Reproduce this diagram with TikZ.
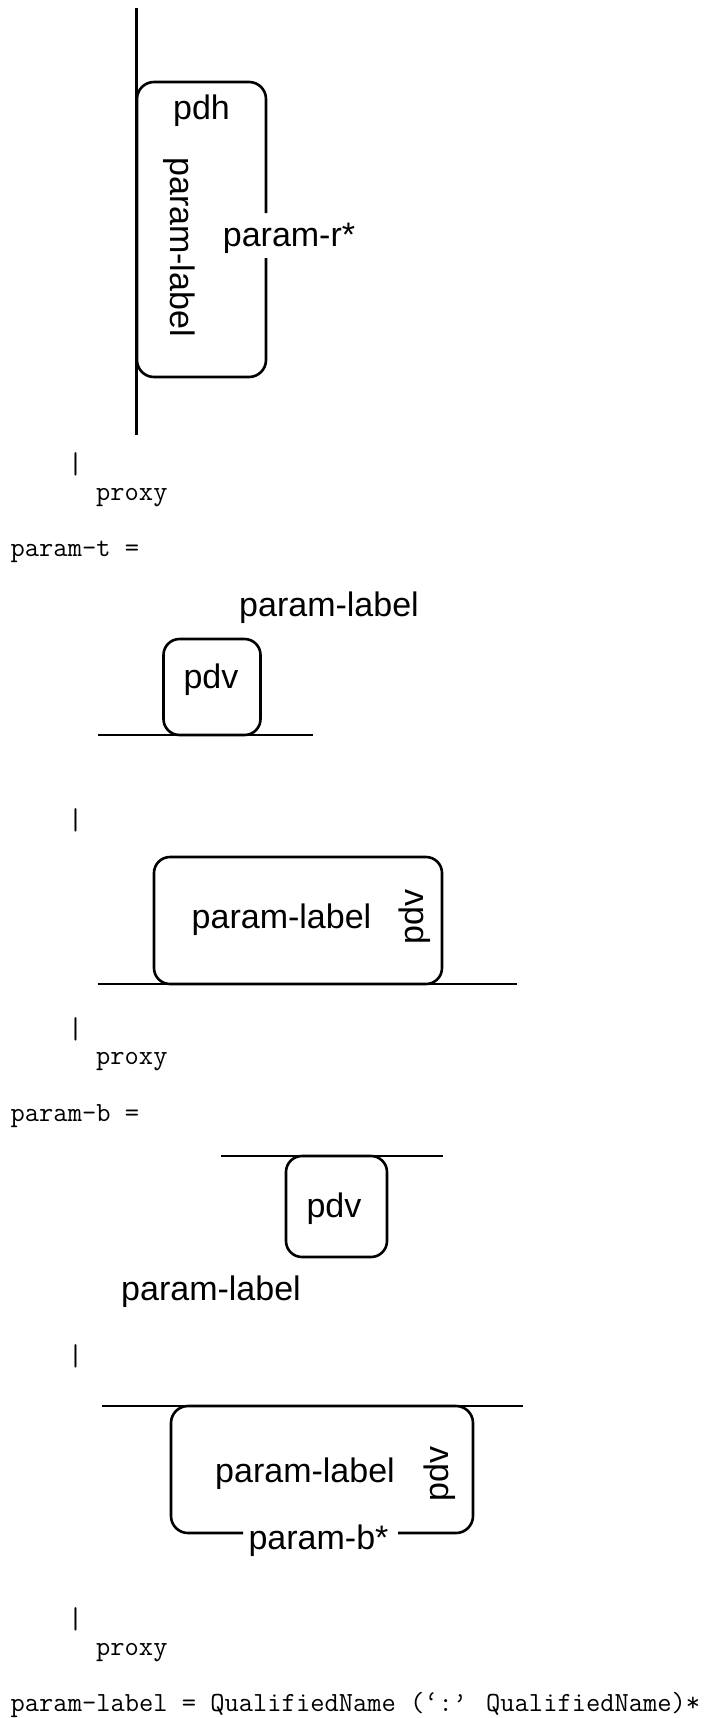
\documentclass[tikz,border=0pt]{standalone}
\usepackage{fontspec}
\setmainfont{Liberation Sans}
\begin{document}
\begin{tikzpicture}[x=1pt,y=-1pt,
  ln/.style={line width=2.6pt},
  sans/.style={inner sep=0pt,font=\fontsize{34}{40}\selectfont},
  mono/.style={inner sep=0pt,anchor=base west,font=\ttfamily\fontsize{27.7}{30}\selectfont},
  bar/.style={inner sep=0pt,anchor=center,font=\ttfamily\fontsize{30}{32}\selectfont},
  box/.style={draw,line width=2.6pt,rounded corners=16pt,inner sep=0pt}]
\fill[white] (0,0) rectangle (704,1718);
\useasboundingbox (0,0) rectangle (704,1718);

% ---- section 1 ----
\coordinate (v1t) at (136.5,8.5);
\coordinate (v1b) at (136.5,435);
\draw[ln] (v1t) -- (v1b);
\node[inner sep=0pt,minimum width=129pt,minimum height=295pt] (b1) at (201.5,229.5) {};
\draw[ln,rounded corners=17pt] (266,213) -- (266,82) -- (137,82) -- (137,377) -- (266,377) -- (266,258);
\node[sans,anchor=base] (pdh) at (201.5,120) {pdh};
\node[sans,anchor=base,rotate=-90] (pl1) at (170,247) {param-label};
\node[sans,anchor=base] (pr) at (289,246.5) {param-r*};

% ---- section 2 ----
\node[bar] (bar1) at (75.5,464.5) {|};
\node[mono] (px1) at (96,500) {proxy};
\node[mono] (pt) at (10.5,556) {param-t =};
\node[sans,anchor=base] (pl2) at (329,616) {param-label};
\node[box,minimum width=97pt,minimum height=96pt] (t1box) at (212,687) {};
\node[sans,anchor=base] (pdv1) at (211,688) {pdv};
\coordinate (l2a) at (97.7,735);
\coordinate (l2b) at (313,735);
\draw[ln] (l2a) -- (l2b);

% ---- section 3 ----
\node[bar] (bar2) at (75.5,820) {|};
\node[box,minimum width=288pt,minimum height=127pt] (t2box) at (298,920.5) {};
\node[sans,anchor=base] (pl3) at (281.5,928.5) {param-label};
\node[sans,anchor=base,rotate=90] (pdv2) at (423,916.7) {pdv};
\coordinate (l3a) at (97.5,984);
\coordinate (l3b) at (517,984);
\draw[ln] (l3a) -- (l3b);
\node[bar] (bar3) at (75.5,1029) {|};
\node[mono] (px2) at (96,1064.5) {proxy};
\node[mono] (pb) at (10.5,1121.5) {param-b =};

% ---- section 4 ----
\coordinate (l4a) at (221,1156);
\coordinate (l4b) at (443,1156);
\node[box,minimum width=101pt,minimum height=101pt] (b1box) at (336.5,1206.5) {};
\draw[ln] (l4a) -- (l4b);
\node[sans,anchor=base] (pdv3) at (334,1217) {pdv};
\node[sans,anchor=base] (pl4) at (211,1300) {param-label};
\node[bar] (bar4) at (75.5,1356.5) {|};

% ---- section 5 ----
\coordinate (l5a) at (102,1406);
\coordinate (l5b) at (523,1406);
\draw[ln,rounded corners=17pt] (243,1533) -- (171,1533) -- (171,1406) -- (473,1406) -- (473,1533) -- (398,1533);
\draw[ln] (l5a) -- (l5b);
\node[sans,anchor=base] (pl5) at (305,1482) {param-label};
\node[sans,anchor=base,rotate=90] (pdv4) at (448,1474) {pdv};
\node[sans,anchor=base] (pbs) at (318.5,1549) {param-b*};
\node[bar] (bar5) at (75.5,1619.5) {|};
\node[mono] (px3) at (96,1655) {proxy};
\node[mono] (plq) at (10.5,1711) {param-label = QualifiedName (‘:’ QualifiedName)*};
\end{tikzpicture}
\end{document}
